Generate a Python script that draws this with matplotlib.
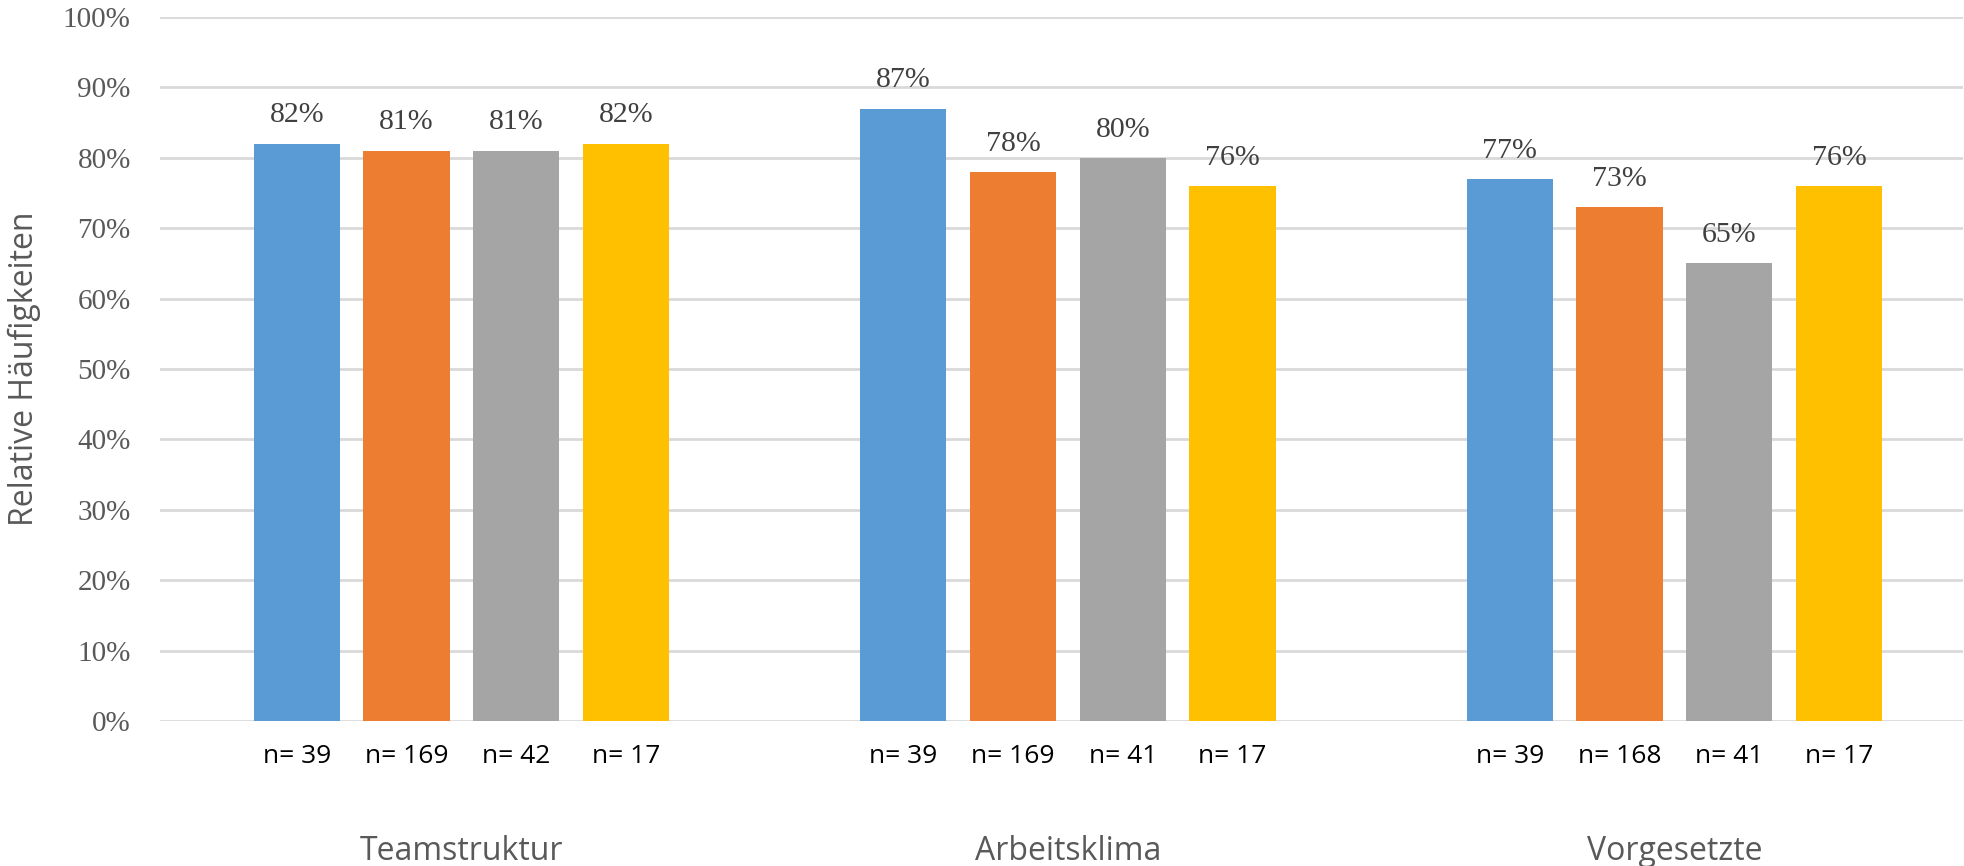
import numpy as np
import matplotlib.pyplot as plt
from matplotlib.transforms import blended_transform_factory

# Daten
kategorien = ['Teamstruktur', 'Arbeitsklima', 'Vorgesetzte']
werte = [
    [82, 81, 81, 82],
    [87, 78, 80, 76],
    [77, 73, 65, 76],
]
stichprobe = [
    [39, 169, 42, 17],
    [39, 169, 41, 17],
    [39, 168, 41, 17],
]
farben = ['#5B9BD5', '#ED7D31', '#A5A5A5', '#FFC000']
y_ticks = [0, 10, 20, 30, 40, 50, 60, 70, 80, 90, 100]

grau = '#595959'
serif = 'Liberation Serif'
sans = 'Open Sans'

fig = plt.figure(figsize=(19.65, 8.66), dpi=100)
ax = fig.add_axes([0.0814, 0.1674, 0.9176, 0.813])

x = np.arange(len(kategorien))
breite = 0.142
abstand = 0.181
werte = np.array(werte)

trans = blended_transform_factory(ax.transData, ax.transAxes)
for i in range(werte.shape[1]):
    pos = x + (i - 1.5) * abstand
    bars = ax.bar(pos, werte[:, i], width=breite, color=farben[i], zorder=3)
    for b, v in zip(bars, werte[:, i]):
        ax.annotate(f'{v}%', (b.get_x() + b.get_width() / 2, v),
                    xytext=(0, 11), textcoords='offset points',
                    ha='center', va='bottom', fontsize=21.5,
                    family=serif, color='#404040')
    for p, n in zip(pos, [s[i] for s in stichprobe]):
        ax.text(p, -0.05, f'n= {n}', transform=trans, ha='center',
                va='center', fontsize=19, family=sans, color='black')

ax.set_ylim(0, 100)
ax.set_xlim(-0.497, 2.476)
ax.set_yticks(y_ticks)
ax.set_yticklabels([f'{t}%' for t in y_ticks], family=serif, fontsize=21,
                   color=grau)
ax.set_xticks(x)
ax.set_xticklabels(kategorien, family=sans, fontsize=23, color=grau)
ax.tick_params(axis='x', length=0, pad=82)
ax.tick_params(axis='y', length=0, pad=21)

ax.grid(axis='y', color='#D9D9D9', linewidth=2, zorder=0)
for s in ['top', 'right', 'left', 'bottom']:
    ax.spines[s].set_visible(False)

ax.set_ylabel('Relative Häufigkeiten', family=sans, fontsize=23, color=grau)
ax.yaxis.set_label_coords(-0.066, 0.5)

fig.savefig('out.png', dpi=100)
